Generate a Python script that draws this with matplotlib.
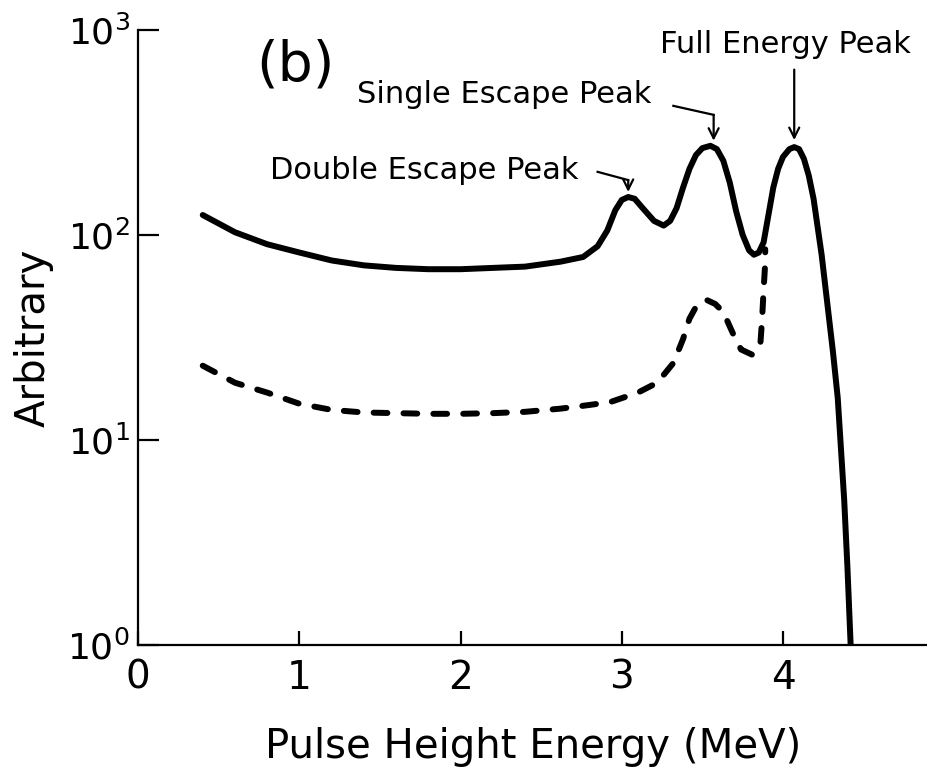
import matplotlib
matplotlib.use("Agg")
import matplotlib.pyplot as plt

# solid curve (pulse height spectrum)
solid_e = [0.40, 0.60, 0.80, 1.00, 1.20, 1.40, 1.60, 1.80, 2.00, 2.20, 2.40, 2.62,
           2.76, 2.85, 2.91, 2.96, 3.00, 3.04, 3.08, 3.13, 3.20, 3.26, 3.30, 3.34,
           3.38, 3.42, 3.46, 3.50, 3.55, 3.59, 3.63, 3.67, 3.71, 3.75, 3.79, 3.82,
           3.85, 3.88, 3.91, 3.94, 3.97, 4.00, 4.04, 4.07, 4.10, 4.13, 4.16, 4.19,
           4.24, 4.28, 4.31, 4.34, 4.38, 4.40, 4.42]
solid_y = [125, 103, 90, 82, 75, 71, 69, 68, 68, 69, 70, 74,
           78, 88, 105, 132, 148, 153, 150, 135, 117, 111, 117, 135,
           170, 210, 245, 265, 272, 262, 230, 180, 130, 100, 84, 80,
           82, 92, 125, 170, 210, 240, 262, 268, 262, 235, 195, 150,
           80, 43, 27, 16, 5.1, 2.4, 1.0]

# dashed curve
dash_e = [0.40, 0.60, 0.80, 1.00, 1.20, 1.40, 1.60, 1.80, 2.00, 2.20, 2.40, 2.62,
          2.80, 2.93, 3.10, 3.22, 3.32, 3.38, 3.42, 3.47, 3.53, 3.58, 3.63, 3.69,
          3.74, 3.81, 3.86, 3.87, 3.88, 3.89, 3.89]
dash_y = [23, 19, 17, 15, 14, 13.6, 13.5, 13.4, 13.4, 13.5, 13.7, 14.2,
          14.8, 15.3, 17, 19, 23.7, 31, 39, 46, 48, 46, 42, 33,
          27.6, 26, 29.5, 38, 54, 73, 85]

x_ticks = [0, 1, 2, 3, 4]
y_ticks = [1, 10, 100, 1000]

FS_ANN = 22


def main():
    fig = plt.figure(figsize=(9.28, 7.76), dpi=100)
    ax = fig.add_axes([0.149, 0.169, 0.851, 0.7925])

    ax.plot(solid_e, solid_y, color='black', lw=4.3, solid_capstyle='round',
            solid_joinstyle='round')
    ax.plot(dash_e, dash_y, color='black', lw=4.3, linestyle=(0, (2.3, 2.7)),
            dash_capstyle='round')

    ax.set_yscale('log')
    ax.set_xlim(0, 4.9)
    ax.set_ylim(1, 1000)
    ax.set_xticks(x_ticks)
    ax.set_yticks(y_ticks)
    ax.yaxis.set_minor_locator(matplotlib.ticker.NullLocator())

    for s in ['top', 'right']:
        ax.spines[s].set_visible(False)
    for s in ['left', 'bottom']:
        ax.spines[s].set_linewidth(1.6)

    ax.tick_params(axis='y', direction='in', length=15, width=1.6, pad=6, labelsize=26)
    ax.tick_params(axis='x', direction='in', length=10, width=1.6, pad=10, labelsize=28)

    ax.set_xlabel("Pulse Height Energy (MeV)", fontsize=29, labelpad=22)
    ax.set_ylabel("Arbitrary", fontsize=29, labelpad=10)

    ax.text(0.975, 667, "(b)", fontsize=40, ha='center', va='center')

    arrow = dict(arrowstyle='->', color='black', lw=1.6, mutation_scale=18,
                 shrinkA=0, shrinkB=0)

    # Full Energy Peak
    ax.text(3.24, 850, "Full Energy Peak", fontsize=FS_ANN, ha='left', va='center')
    ax.annotate("", xy=(4.07, 290), xytext=(4.07, 640), arrowprops=arrow)

    # Single Escape Peak
    ax.text(1.36, 482, "Single Escape Peak", fontsize=FS_ANN, ha='left', va='center')
    ax.plot([3.32, 3.57], [426, 385], color='black', lw=1.6)
    ax.annotate("", xy=(3.57, 288), xytext=(3.57, 385), arrowprops=arrow)

    # Double Escape Peak
    ax.text(0.82, 205, "Double Escape Peak", fontsize=FS_ANN, ha='left', va='center')
    ax.plot([2.85, 3.04], [203, 185], color='black', lw=1.6)
    ax.annotate("", xy=(3.04, 162), xytext=(3.04, 185), arrowprops=arrow)

    fig.savefig("out.png", dpi=100)


if __name__ == "__main__":
    main()
